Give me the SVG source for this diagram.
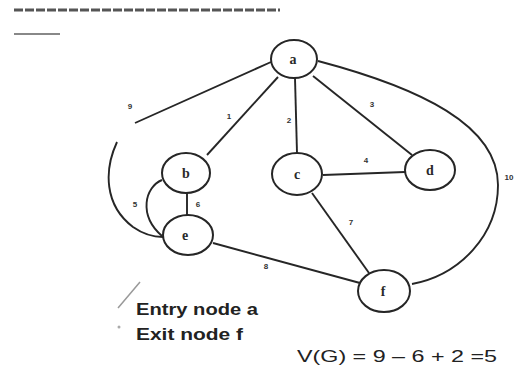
<svg xmlns="http://www.w3.org/2000/svg" width="516" height="373" viewBox="0 0 516 373">
<style>
.node{fill:none;stroke:#262626;stroke-width:2}
.edge{fill:none;stroke:#262626;stroke-width:1.9}
.nl{font-family:"Liberation Serif",serif;font-size:14px;font-weight:bold;fill:#2a2a2a;text-anchor:middle}
.el{font-family:"Liberation Sans",sans-serif;font-size:8px;font-weight:bold;fill:#333;text-anchor:middle}
.note{font-family:"Liberation Sans",sans-serif;font-weight:bold;fill:#222}
.formula{font-family:"Liberation Sans",sans-serif;font-weight:normal;fill:#222}
</style>
<rect width="516" height="373" fill="#ffffff"/>
<g id="scan-marks">
<line x1="14" y1="10" x2="280" y2="10" stroke="#555" stroke-width="3" stroke-dasharray="9 2"/>
<line x1="14" y1="34" x2="60" y2="34" stroke="#888" stroke-width="2"/>
<line x1="140" y1="282" x2="118" y2="308" stroke="#999" stroke-width="1.5"/>
<circle cx="119" cy="327" r="1.5" fill="#aaa"/>
</g>
<g id="connectors">
<path class="edge" d="M271,62 L135,123 M117,142 C104,170 104,205 133,227 C143,234 152,237 163,237"/>
<line class="edge" x1="278" y1="77" x2="207" y2="155"/>
<line class="edge" x1="295" y1="78" x2="297" y2="153"/>
<line class="edge" x1="313" y1="76" x2="412" y2="155"/>
<path class="edge" d="M318,61 C420,88 498,125 498,185 C498,235 460,275 412,284"/>
<line class="edge" x1="323" y1="175" x2="405" y2="172"/>
<line class="edge" x1="312" y1="193" x2="369" y2="273"/>
<path class="edge" d="M213,243 L360,283"/>
<line class="edge" x1="187" y1="193" x2="187" y2="215"/>
<path class="edge" d="M162,180 C145,187 138,215 162,236"/>
<text class="el" x="130" y="109">9</text>
<text class="el" x="229" y="119">1</text>
<text class="el" x="289" y="123">2</text>
<text class="el" x="372" y="107">3</text>
<text class="el" x="366" y="163">4</text>
<text class="el" x="135" y="207">5</text>
<text class="el" x="198" y="207">6</text>
<text class="el" x="351" y="225">7</text>
<text class="el" x="266" y="269">8</text>
<text class="el" x="509" y="180">10</text>
</g>
<g id="node-a"><ellipse class="node" cx="294" cy="59" rx="23" ry="19"/><text class="nl" x="293" y="64">a</text></g>
<g id="node-b"><ellipse class="node" cx="186" cy="173" rx="24" ry="20"/><text class="nl" x="186" y="178">b</text></g>
<g id="node-c"><ellipse class="node" cx="297" cy="174" rx="25" ry="21"/><text class="nl" x="297" y="179">c</text></g>
<g id="node-d"><ellipse class="node" cx="430" cy="170" rx="25" ry="20"/><text class="nl" x="430" y="175">d</text></g>
<g id="node-e"><ellipse class="node" cx="188" cy="235" rx="25" ry="20"/><text class="nl" x="185" y="240">e</text></g>
<g id="node-f"><ellipse class="node" cx="384" cy="291" rx="26" ry="21"/><text class="nl" x="383" y="296">f</text></g>
<g id="notes">
<text class="note" x="136" y="315" font-size="17" textLength="122" lengthAdjust="spacingAndGlyphs">Entry node a</text>
<text class="note" x="136" y="340" font-size="17" textLength="107" lengthAdjust="spacingAndGlyphs">Exit node f</text>
<text class="formula" x="297" y="362" font-size="16" textLength="200" lengthAdjust="spacingAndGlyphs">V(G) = 9 – 6 + 2 =5</text>
</g>
</svg>
